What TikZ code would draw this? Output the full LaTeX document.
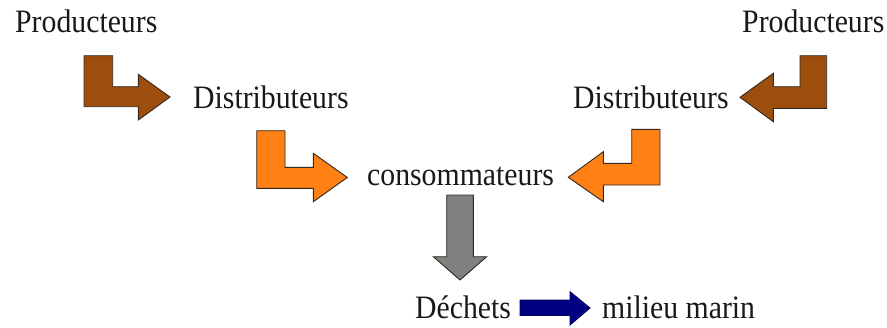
\documentclass[tikz,border=0pt]{standalone}
\usepackage{fontspec}
\setmainfont{Liberation Serif}[FakeStretch=0.91]
\definecolor{brownarrow}{RGB}{158,78,12}
\definecolor{orangearrow}{RGB}{255,128,20}
\definecolor{grayarrow}{RGB}{128,128,128}
\definecolor{bluearrow}{RGB}{0,0,128}
\definecolor{outline}{RGB}{50,40,30}
\definecolor{txt}{RGB}{25,25,25}
\begin{document}
\begin{tikzpicture}[x=1pt,y=-1pt,
  lbl/.style={anchor=base west,inner sep=0pt,text=txt,font=\fontsize{32.7}{36}\selectfont},
  blockarrow/.style={draw=outline,line width=0.9pt,line join=miter}]
\useasboundingbox (0,0) rectangle (887,327);
% texts
\node[lbl] (p1) at (15,32) {Producteurs};
\node[lbl] (p2) at (742,32) {Producteurs};
\node[lbl] (d1) at (193,108) {Distributeurs};
\node[lbl] (d2) at (573,108) {Distributeurs};
\node[lbl] (c) at (367,185) {consommateurs};
\node[lbl] (w) at (415,318) {Déchets};
\node[lbl] (m) at (602,318) {milieu marin};
% brown bent arrows
\draw[blockarrow,fill=brownarrow] (84,55.7) -- (112.7,55.7) -- (112.7,86.7) -- (138.3,86.7) -- (138.3,74.3) -- (170,97) -- (138.3,120) -- (138.3,106.7) -- (84,106.7) -- cycle;
\draw[blockarrow,fill=brownarrow] (826.7,55.7) -- (800,55.7) -- (800,86.7) -- (773.3,86.7) -- (773.3,73.3) -- (740,97.3) -- (773.3,121.7) -- (773.3,108.3) -- (826.7,108.3) -- cycle;
% orange bent arrows
\draw[blockarrow,fill=orangearrow] (256.7,130.7) -- (285,130.7) -- (285,167.3) -- (313.3,167.3) -- (313.3,153.3) -- (347.3,177.5) -- (313.3,201.7) -- (313.3,188.3) -- (256.7,188.3) -- cycle;
\draw[blockarrow,fill=orangearrow] (660,129.3) -- (631.7,129.3) -- (631.7,163.3) -- (603.3,163.3) -- (603.3,151.7) -- (568.3,177.3) -- (603.3,201.7) -- (603.3,185) -- (660,185) -- cycle;
% gray down arrow
\draw[blockarrow,fill=grayarrow] (446.7,195) -- (473.3,195) -- (473.3,256.7) -- (486.7,256.7) -- (460,280) -- (433.3,256.7) -- (446.7,256.7) -- cycle;
% blue arrow
\draw[blockarrow,fill=bluearrow,draw=bluearrow!70!black] (520,300) -- (570,300) -- (570,291.7) -- (590,308) -- (570,325) -- (570,315.5) -- (520,315.5) -- cycle;
\end{tikzpicture}
\end{document}
